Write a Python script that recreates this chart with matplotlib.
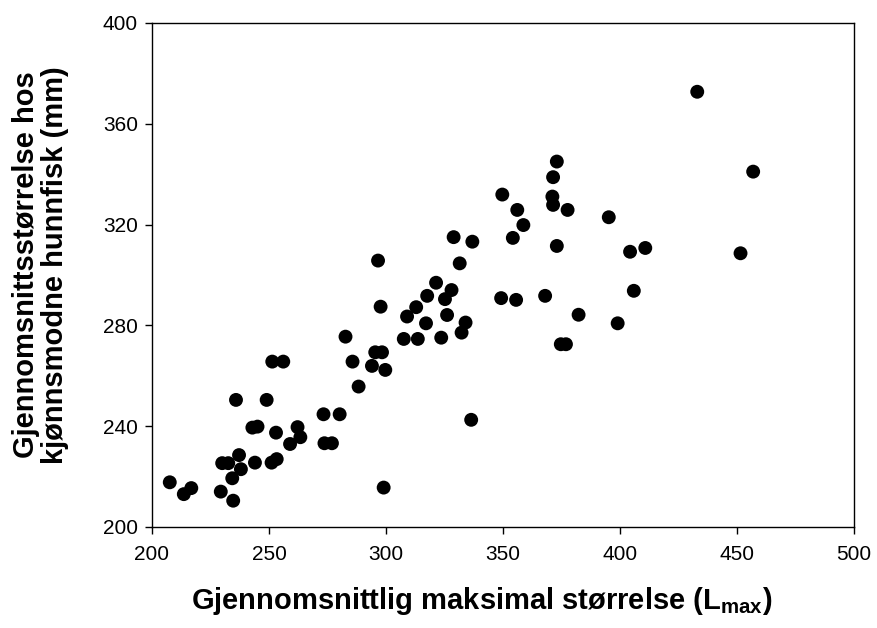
import matplotlib
matplotlib.use("Agg")
import matplotlib.pyplot as plt

plt.rcParams['font.family'] = ['Liberation Sans', 'DejaVu Sans']
plt.rcParams['mathtext.fontset'] = 'custom'
plt.rcParams['mathtext.rm'] = 'Liberation Sans'
plt.rcParams['mathtext.bf'] = 'Liberation Sans:bold'

# Gjennomsnittlig maksimal størrelse (Lmax)
lmax = [207.6, 213.6, 216.8, 235.9, 249.0, 229.4, 234.7, 230.0, 232.6, 237.2,
        238.0, 234.3, 242.9, 245.1, 253.0, 244.0, 251.1, 253.3, 259.0, 262.2,
        263.4, 273.3, 273.7, 280.2, 276.9, 296.6, 297.7, 309.0, 282.7, 307.6,
        295.4, 298.3, 285.7, 294.0, 299.7, 288.3, 251.4, 256.1, 328.9, 336.9,
        331.5, 321.4, 328.0, 317.6, 325.2, 312.9, 326.1, 317.1, 334.0, 332.3,
        313.6, 323.6, 336.4, 299.0, 373.0, 371.4, 349.7, 371.1, 371.4, 356.1,
        377.6, 358.7, 395.2, 354.2, 373.0, 404.3, 410.8, 456.9, 451.5, 349.2,
        355.6, 368.0, 405.9, 382.3, 399.0, 374.7, 376.9, 433.0]

# Gjennomsnittsstørrelse hos kjønnsmodne hunnfisk (mm)
female_size = [217.7, 213.0, 215.4, 250.4, 250.4, 214.0, 210.4, 225.3, 225.3, 228.5,
               222.9, 219.3, 239.4, 239.8, 237.4, 225.5, 225.5, 226.9, 232.9, 239.6,
               235.6, 244.7, 233.2, 244.7, 233.2, 305.7, 287.4, 283.5, 275.5, 274.6,
               269.3, 269.3, 265.6, 263.9, 262.3, 255.7, 265.6, 265.6, 315.0, 313.2,
               304.6, 296.9, 294.0, 291.7, 290.4, 287.2, 284.1, 280.8, 281.1, 277.1,
               274.6, 275.1, 242.5, 215.6, 345.0, 338.8, 331.9, 331.1, 327.8, 325.8,
               325.8, 319.8, 322.9, 314.7, 311.5, 309.2, 310.7, 341.0, 308.6, 290.8,
               290.1, 291.7, 293.7, 284.2, 280.8, 272.5, 272.5, 372.7]

x_ticks = [200, 250, 300, 350, 400, 450, 500]
y_ticks = [200, 240, 280, 320, 360, 400]

fig = plt.figure(figsize=(8.77, 6.28), dpi=100)
ax = fig.add_axes([0.1733, 0.161, 0.8005, 0.8024])

ax.scatter(lmax, female_size, s=100, color='black', edgecolors='none', zorder=3)

ax.set_xlim(200, 500)
ax.set_ylim(200, 400)
ax.set_xticks(x_ticks)
ax.set_yticks(y_ticks)
ax.tick_params(direction='out', length=5, width=1, labelsize=15, pad=5)
ax.tick_params(axis='x', pad=8)
for sp in ax.spines.values():
    sp.set_linewidth(1)

ax.set_xlabel(r'Gjennomsnittlig maksimal størrelse (L$_\mathbf{max}$)',
              fontsize=21, fontweight='bold')
ax.xaxis.set_label_coords(0.47, -0.115)
ax.set_ylabel('Gjennomsnittsstørrelse hos\nkjønnsmodne hunnfisk (mm)',
              fontsize=21, fontweight='bold', linespacing=1.05)
ax.yaxis.set_label_coords(-0.118, 0.52)

fig.savefig('out.png', dpi=100)
